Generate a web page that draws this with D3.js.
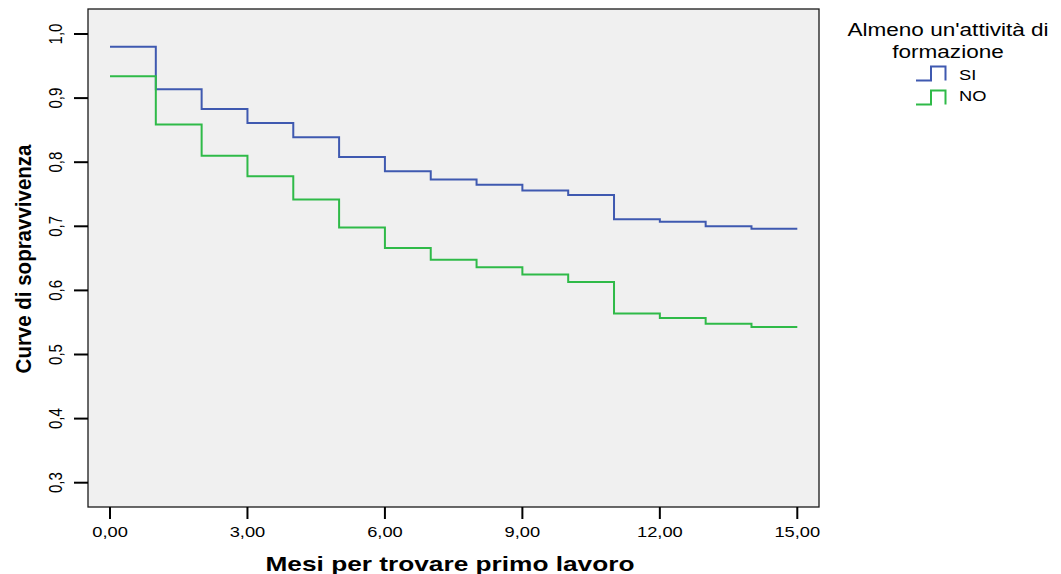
<!DOCTYPE html>
<html lang="it">
<head>
<meta charset="UTF-8">
<title>Curve di sopravvivenza</title>
<script src="https://d3js.org/d3.v7.min.js"></script>
<style>
    body { margin: 0; background: #fff; font-family: "Liberation Sans", Arial, sans-serif; }
    svg text { fill: #000; }
</style>
</head>
<body>
<div id="chart"></div>
<script>
// data
var mesi = [0, 1, 2, 3, 4, 5, 6, 7, 8, 9, 10, 11, 12, 13, 14, 15];
var curvaSI = [0.980, 0.914, 0.883, 0.861, 0.839, 0.808, 0.786, 0.773, 0.765, 0.756, 0.749, 0.711, 0.707, 0.700, 0.696];
var curvaNO = [0.934, 0.859, 0.810, 0.778, 0.742, 0.698, 0.666, 0.648, 0.636, 0.625, 0.613, 0.564, 0.557, 0.548, 0.543];
var xTicks = [0, 3, 6, 9, 12, 15];
var yTicks = [0.3, 0.4, 0.5, 0.6, 0.7, 0.8, 0.9, 1.0];
var serie = [
    {nome: "SI", valori: curvaSI, colore: "#3f59b0"},
    {nome: "NO", valori: curvaNO, colore: "#2fba48"}
];

var W = 1061, H = 574;
var stretch = 1.22;   // text in the reference is wider than normal
var frame = {left: 88, top: 9, right: 819, bottom: 507};

var svg = d3.select("#chart").append("svg")
    .attr("width", W)
    .attr("height", H);

var x = d3.scaleLinear().domain([0, 15]).range([110, 797.3]);
var y = d3.scaleLinear().domain([0.3, 1.0]).range([482.7, 34]);

var fmtX = function(d) { return d3.format(".2f")(d).replace(".", ","); };
var fmtY = function(d) { return d3.format(".1f")(d).replace(".", ","); };

// plot background
svg.append("rect")
    .attr("x", frame.left)
    .attr("y", frame.top)
    .attr("width", frame.right - frame.left)
    .attr("height", frame.bottom - frame.top)
    .attr("fill", "#f0f0f0")
    .attr("stroke", "#1a1a1a")
    .attr("stroke-width", 1.3);

// step curves
var line = d3.line()
    .x(function(d) { return x(d[0]); })
    .y(function(d) { return y(d[1]); })
    .curve(d3.curveStepAfter);

serie.forEach(function(s) {
    var pts = s.valori.map(function(v, i) { return [mesi[i], v]; });
    pts.push([mesi[mesi.length - 1], s.valori[s.valori.length - 1]]);
    svg.append("path")
        .attr("d", line(pts))
        .attr("fill", "none")
        .attr("stroke", s.colore)
        .attr("stroke-width", 2);
});

// x axis ticks
var xg = svg.append("g");
xg.selectAll("line").data(xTicks).enter().append("line")
    .attr("x1", function(d) { return x(d); })
    .attr("x2", function(d) { return x(d); })
    .attr("y1", frame.bottom)
    .attr("y2", frame.bottom + 12)
    .attr("stroke", "#000")
    .attr("stroke-width", 2);
xg.selectAll("text").data(xTicks).enter().append("text")
    .attr("transform", function(d) { return "translate(" + x(d) + ",537) scale(" + stretch + ",1)"; })
    .attr("text-anchor", "middle")
    .style("font-size", "15px")
    .text(fmtX);

// y axis ticks
var yg = svg.append("g");
yg.selectAll("line").data(yTicks).enter().append("line")
    .attr("x1", frame.left - 14)
    .attr("x2", frame.left)
    .attr("y1", function(d) { return y(d); })
    .attr("y2", function(d) { return y(d); })
    .attr("stroke", "#000")
    .attr("stroke-width", 2);
yg.selectAll("text").data(yTicks).enter().append("text")
    .attr("transform", function(d) { return "translate(62," + y(d) + ") scale(" + stretch + ",1) rotate(-90)"; })
    .attr("text-anchor", "middle")
    .style("font-size", "15px")
    .text(fmtY);

// axis titles
svg.append("text")
    .attr("transform", "translate(450,571) scale(1.25,1)")
    .attr("text-anchor", "middle")
    .style("font-size", "21px")
    .style("font-weight", "bold")
    .text("Mesi per trovare primo lavoro");

svg.append("text")
    .attr("transform", "translate(31,259) scale(1.1,1) rotate(-90)")
    .attr("text-anchor", "middle")
    .style("font-size", "20.5px")
    .style("font-weight", "bold")
    .text("Curve di sopravvivenza");

// legend
var leg = svg.append("g");
leg.append("text")
    .attr("transform", "translate(948,36) scale(" + stretch + ",1)")
    .attr("text-anchor", "middle")
    .style("font-size", "18.5px")
    .text("Almeno un'attività di");
leg.append("text")
    .attr("transform", "translate(948,58) scale(" + stretch + ",1)")
    .attr("text-anchor", "middle")
    .style("font-size", "18.5px")
    .text("formazione");

serie.forEach(function(s, i) {
    var by = 80.5 + i * 24;
    leg.append("path")
        .attr("d", "M916," + by + "H931V" + (by - 14) + "H945.5V" + by)
        .attr("fill", "none")
        .attr("stroke", s.colore)
        .attr("stroke-width", 2);
    leg.append("text")
        .attr("transform", "translate(959," + (i === 0 ? 80 : 101) + ") scale(" + stretch + ",1)")
        .style("font-size", "15px")
        .text(s.nome);
});
</script>
</body>
</html>
